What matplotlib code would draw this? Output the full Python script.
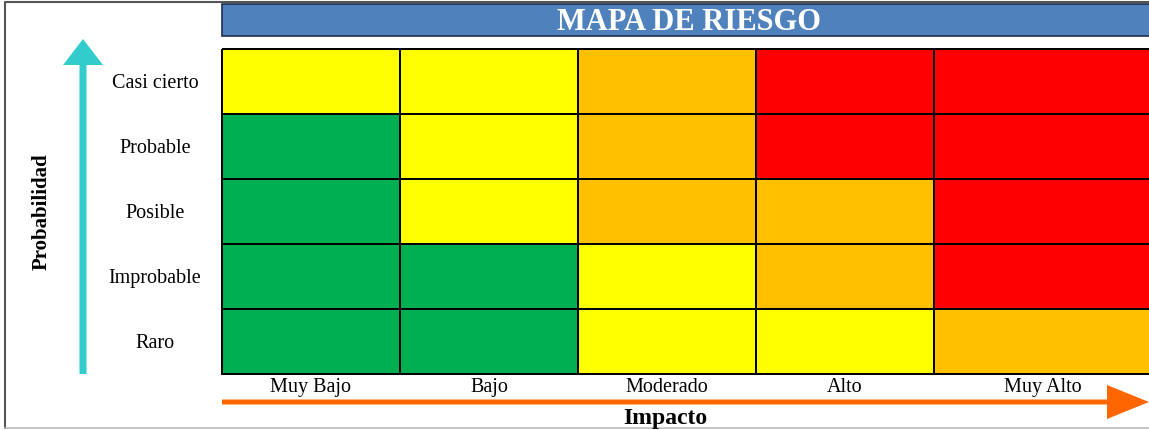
import matplotlib
matplotlib.use("Agg")
import matplotlib.pyplot as plt
import numpy as np
from matplotlib.colors import ListedColormap
from matplotlib.patches import Rectangle, FancyArrow

plt.rcParams["font.family"] = ["Liberation Serif", "DejaVu Serif"]

title = "MAPA DE RIESGO"
probabilidad = ["Casi cierto", "Probable", "Posible", "Improbable", "Raro"]
impacto = ["Muy Bajo", "Bajo", "Moderado", "Alto", "Muy Alto"]
# 0 = bajo (verde), 1 = moderado (amarillo), 2 = alto (naranja), 3 = extremo (rojo)
nivel = [
    [1, 1, 2, 3, 3],
    [0, 1, 2, 3, 3],
    [0, 1, 2, 2, 3],
    [0, 0, 1, 2, 3],
    [0, 0, 1, 1, 2],
]
colores = ["#00B050", "#FFFF00", "#FFC000", "#FF0000"]

W, H = 1149, 431
fig = plt.figure(figsize=(W / 100, H / 100), dpi=100)
ax = fig.add_axes([0, 0, 1, 1])
ax.set_xlim(0, W)
ax.set_ylim(H, 0)
ax.axis("off")

# grid geometry (pixels)
x0, cw = 222, 178
y0, rh = 50, 65
xe = x0 + cw * np.arange(len(impacto) + 1)
xe[-1] = x0 + cw * 4 + 230
ye = y0 + rh * np.arange(len(probabilidad) + 1)

ax.pcolormesh(xe, ye, np.array(nivel), cmap=ListedColormap(colores),
              vmin=-0.5, vmax=3.5, edgecolors="black", linewidth=1.2)

# outer frame
ax.plot([5, 5, W + 5], [429, 3, 3], color="#555555", lw=1.5)
ax.plot([5, W + 5], [429, 429], color="#bbbbbb", lw=1.2)

# title bar
ax.add_patch(Rectangle((x0, 5), W, 32, facecolor="#4F81BD",
                       edgecolor="#1F2F4F", lw=1.2))
ax.text(x0 + 467, 22, title, color="white", fontsize=22, fontweight="bold",
        ha="center", va="center")

# labels
for i, lab in enumerate(probabilidad):
    ax.text(155, (ye[i] + ye[i + 1]) / 2 + 1, lab, fontsize=14.5,
            ha="center", va="center")
for j, lab in enumerate(impacto):
    cx = (xe[j] + xe[j + 1]) / 2 if j < 4 else 1043
    ax.text(cx, 388, lab, fontsize=14.5, ha="center", va="center")

# arrows
ax.add_patch(FancyArrow(83, 375, 0, -309, width=7, head_width=40,
                        head_length=26, length_includes_head=False,
                        color="#33CCCC", lw=0))
ax.add_patch(FancyArrow(222, 403, 885, 0, width=5, head_width=34,
                        head_length=42, length_includes_head=False,
                        color="#FF6600", lw=0))

ax.text(42, 212, "Probabilidad", fontsize=15, fontweight="bold",
        rotation=90, ha="center", va="center")
ax.text(665, 419, "Impacto", fontsize=17, fontweight="bold",
        ha="center", va="center")

fig.savefig("out.png", dpi=100)
